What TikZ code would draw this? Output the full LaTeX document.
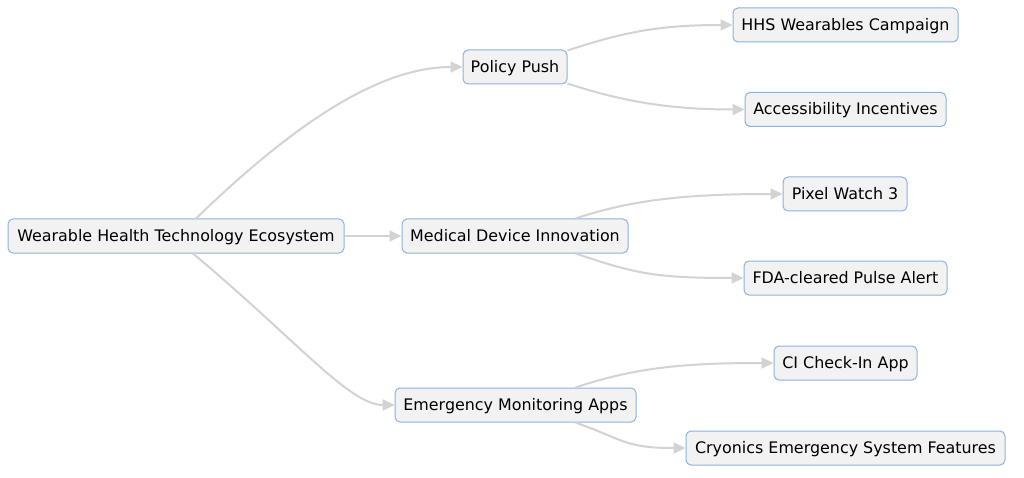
\documentclass[tikz,border=0pt]{standalone}
\usepackage{fontspec}
\setmainfont{DejaVu Sans}
\usetikzlibrary{arrows.meta}
\definecolor{boxfill}{RGB}{242,242,242}
\definecolor{boxline}{RGB}{140,178,222}
\definecolor{edgecol}{RGB}{211,211,211}
\begin{document}
\begin{tikzpicture}[x=1pt,y=-1pt,
  box/.style={draw=boxline,fill=boxfill,line width=1pt,rounded corners=5pt,
    minimum height=34pt,inner sep=0pt,text height=13pt,text depth=2pt,text=black,font=\fontsize{15.9}{19}\selectfont},
  edge/.style={draw=edgecol,line width=2pt,-{Triangle[length=12pt,width=11pt]}}]
\useasboundingbox (0,0) rectangle (1024,478);
\fill[white] (0,0) rectangle (1024,478);
\node[box,minimum width=336pt] (root) at (176,236) {Wearable Health Technology Ecosystem};
\node[box,minimum width=104pt] (pol) at (515,67) {Policy Push};
\node[box,minimum width=226pt] (med) at (515,236) {Medical Device Innovation};
\node[box,minimum width=241pt] (emg) at (515.5,405) {Emergency Monitoring Apps};
\node[box,minimum width=225pt] (hhs) at (845.5,25) {HHS Wearables Campaign};
\node[box,minimum width=201pt] (acc) at (845.5,109.5) {Accessibility Incentives};
\node[box,minimum width=124pt] (pix) at (845,194) {Pixel Watch 3};
\node[box,minimum width=203pt] (fda) at (845.5,278) {FDA-cleared Pulse Alert};
\node[box,minimum width=143pt] (ci) at (845.5,363) {CI Check-In App};
\node[box,minimum width=319pt] (cry) at (845.5,448) {Cryonics Emergency System Features};

\draw[edge] ([xshift=20pt]root.north) .. controls +(95,-92) and +(-85,0) .. (pol.west);
\draw[edge] (root.east) -- (med.west);
\draw[edge] ([xshift=17pt]root.south) .. controls +(105,88) and +(-45,0) .. (emg.west);

\draw[edge] ([yshift=-1pt]pol.north east) .. controls +(55,-18) and +(-75,0) .. (hhs.west);
\draw[edge] ([yshift=1pt]pol.south east) .. controls +(55,18) and +(-75,0) .. (acc.west);
\draw[edge] ([xshift=-53pt]med.north east) .. controls +(60,-20) and +(-90,0) .. (pix.west);
\draw[edge] ([xshift=-53pt]med.south east) .. controls +(60,20) and +(-90,0) .. (fda.west);
\draw[edge] ([xshift=-61pt]emg.north east) .. controls +(60,-20) and +(-90,0) .. (ci.west);
\draw[edge] ([xshift=-61pt]emg.south east) .. controls +(50,18) and +(-60,0) .. (cry.west);
\end{tikzpicture}
\end{document}
